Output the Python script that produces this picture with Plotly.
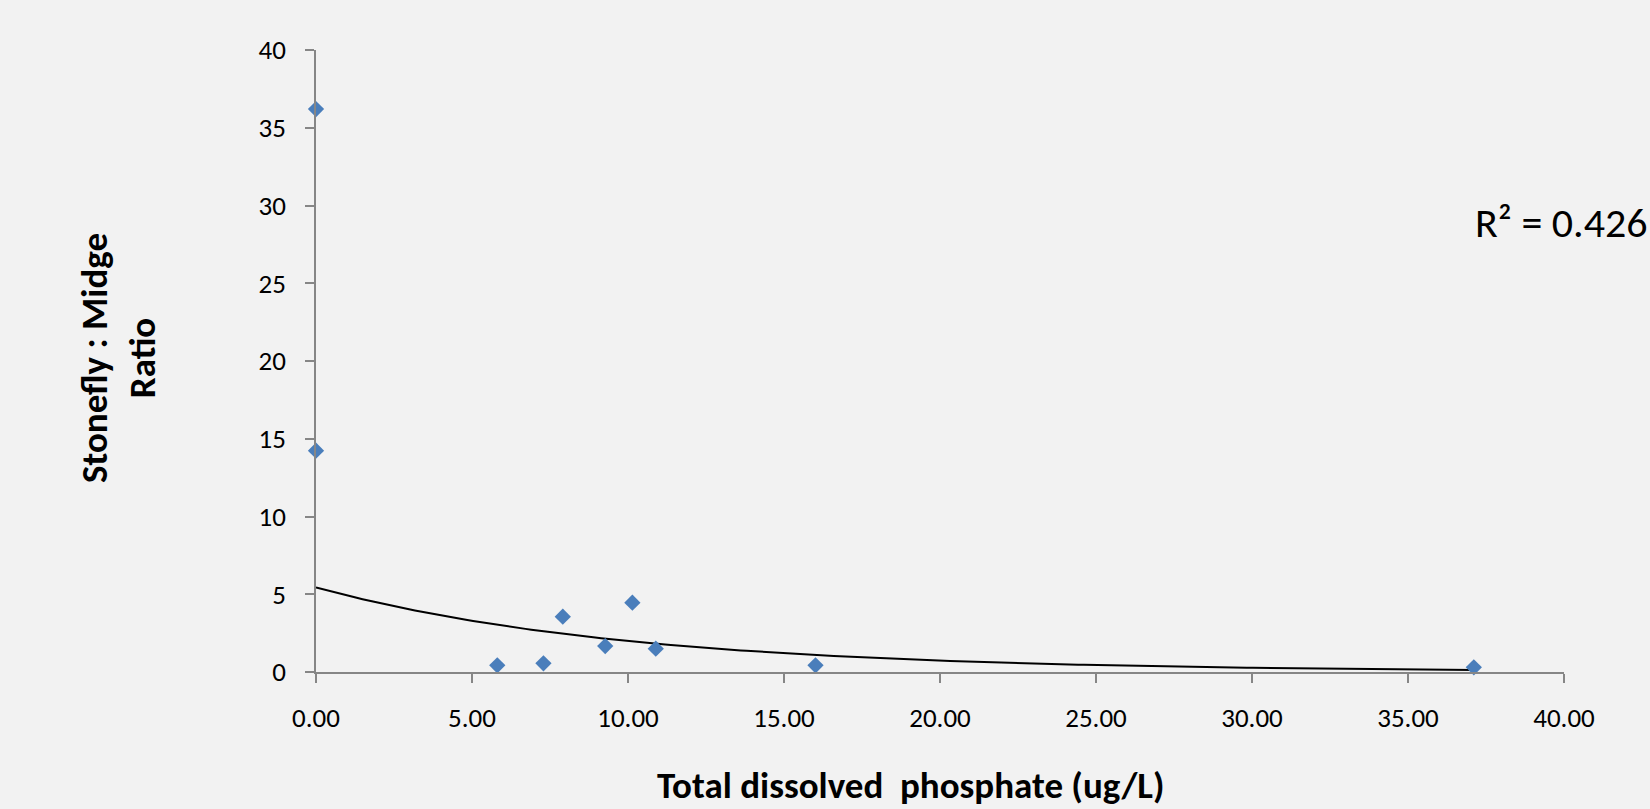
import numpy as np
import plotly.graph_objects as go

# Data
phosphate = [0.00, 0.00, 5.81, 7.29, 7.91, 9.27, 10.14, 10.89, 16.01, 37.11]
ratio = [36.2, 14.23, 0.43, 0.56, 3.56, 1.67, 4.46, 1.50, 0.43, 0.30]
x_ticks = [0, 5, 10, 15, 20, 25, 30, 35, 40]
y_ticks = [0, 5, 10, 15, 20, 25, 30, 35, 40]
r2_label = "R² = 0.426"

# Exponential trendline (least squares on ln(y), as a spreadsheet does)
xa = np.array(phosphate)
ya = np.array(ratio)
b, ln_a = np.polyfit(xa, np.log(ya), 1)
trend_x = np.linspace(xa.min(), xa.max(), 200)
trend_y = np.exp(ln_a) * np.exp(b * trend_x)

FONT = "Calibri, Carlito, Lato, 'Liberation Sans', Arial, sans-serif"
AXIS_COLOR = "#868686"

fig = go.Figure()
fig.add_trace(go.Scatter(
    x=trend_x, y=trend_y, mode="lines",
    line=dict(color="black", width=2),
    hoverinfo="skip", showlegend=False, cliponaxis=False,
))
fig.add_trace(go.Scatter(
    x=phosphate, y=ratio, mode="markers",
    marker=dict(symbol="diamond", size=12.5, color="#4A7EBB"),
    showlegend=False, cliponaxis=False,
))

fig.update_layout(
    width=1650, height=809,
    margin=dict(l=316, r=86, t=50, b=137),
    paper_bgcolor="#F2F2F2", plot_bgcolor="#F2F2F2",
    font=dict(family=FONT, color="black", size=27),
    xaxis=dict(
        range=[0, 40], tickvals=x_ticks, tickformat=".2f",
        showgrid=False, zeroline=False,
        showline=True, linecolor=AXIS_COLOR, linewidth=1.5,
        ticks="outside", ticklen=9, tickcolor=AXIS_COLOR, tickwidth=1.5,
        ticklabelstandoff=12,
        tickfont=dict(size=27, family=FONT, color="black"),
    ),
    yaxis=dict(
        range=[0, 40], tickvals=y_ticks,
        showgrid=False, zeroline=False,
        showline=True, linecolor=AXIS_COLOR, linewidth=1.5,
        ticks="outside", ticklen=9, tickcolor=AXIS_COLOR, tickwidth=1.5,
        ticklabelstandoff=14,
        tickfont=dict(size=27, family=FONT, color="black"),
    ),
    annotations=[
        dict(text=r2_label, xref="paper", yref="paper",
             x=(1561 - 316) / 1248, y=(672 - 222) / 622,
             xanchor="center", yanchor="middle", showarrow=False,
             font=dict(size=42, family=FONT, color="black")),
        dict(text="<b>Total dissolved  phosphate (ug/L)</b>", xref="paper", yref="paper",
             x=(910 - 316) / 1248, y=(672 - 785) / 622,
             xanchor="center", yanchor="middle", showarrow=False,
             font=dict(size=37, family=FONT, color="black")),
        dict(text="<b>Stonefly : Midge<br>Ratio</b>", xref="paper", yref="paper",
             x=(118 - 316) / 1248, y=(672 - 358) / 622,
             xanchor="center", yanchor="middle", showarrow=False, textangle=-90,
             font=dict(size=37, family=FONT, color="black")),
    ],
)

fig.write_html(
    "out.html",
    config={"displayModeBar": False},
    post_script="document.body.style.margin='0';document.body.style.padding='0';document.body.style.background='#F2F2F2';",
)
